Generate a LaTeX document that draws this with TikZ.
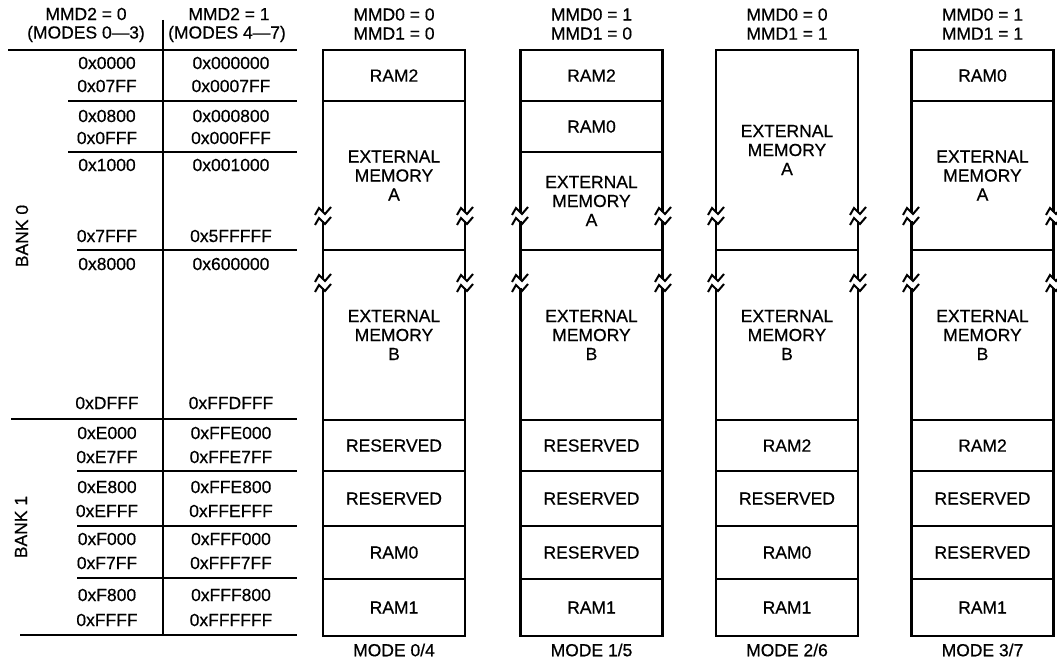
\documentclass[tikz,border=0pt]{standalone}
\usepackage{fontspec}
\setmainfont{Liberation Sans}[BoldFont=Liberation Sans,BoldFeatures={FakeBold=0.5}]
\newcommand{\extmem}[1]{EXTERNAL\\MEMORY\\#1}
\begin{document}
\begin{tikzpicture}[x=1pt,y=-1pt,
  every node/.style={font=\fontsize{17.5}{19}\selectfont\bfseries,inner sep=0pt,align=center},
  rule/.style={line width=2.8pt},
  blk/.style={draw,line width=2.8pt,minimum width=142pt},
  brk/.pic={
    \fill[white] (-2.5,-4) rectangle (2.5,5);
    \draw[line width=2pt] (-8,-1) -- (-4,-8) -- (2,-2) -- (8,-9);
    \draw[line width=2pt] (-8,9) -- (-4,2) -- (2,8) -- (8,1);
  }]
  \useasboundingbox (0,0) rectangle (1057,663);

  % Cabecera de la tabla de direcciones
  \node (mmd2a) at (86,14) {MMD2 = 0};
  \node (mmd2b) at (86,34) {(MODES 0—3)};
  \node (mmd2c) at (229,14) {MMD2 = 1};
  \node (mmd2d) at (227,34) {(MODES 4—7)};

  % Reglas de la tabla
  \draw[rule] (8,50) -- (297,50);
  \foreach \y/\x in {101/68, 152/68, 250/77, 419/11, 471/77, 526/77, 578/77, 635/20}
    \draw[rule] (\x,\y) -- (297,\y);
  \draw[rule] (163,20) -- (163,635);

  % Direcciones
  \foreach \y/\lo/\hi [count=\i] in {63/0x0000/0x000000, 86/0x07FF/0x0007FF,
      116/0x0800/0x000800, 138/0x0FFF/0x000FFF, 165/0x1000/0x001000,
      236/0x7FFF/0x5FFFFF, 264/0x8000/0x600000, 403/0xDFFF/0xFFDFFF,
      433/0xE000/0xFFE000, 457/0xE7FF/0xFFE7FF, 487/0xE800/0xFFE800,
      511/0xEFFF/0xFFEFFF, 539/0xF000/0xFFF000, 563/0xF7FF/0xFFF7FF,
      595/0xF800/0xFFF800, 620/0xFFFF/0xFFFFFF}
  {
    \node (lo\i) at (107,\y) {\lo};
    \node (hi\i) at (231,\y) {\hi};
  }

  % Bancos
  \node[rotate=90] (bank0) at (22,236) {BANK 0};
  \node[rotate=90] (bank1) at (21,527) {BANK 1};

  % Columna MODE 0/4
  \node (hda) at (394,24) {MMD0 = 0\\MMD1 = 0};
  \foreach \t/\b/\txt [count=\i] in {50/101/RAM2, 101/250/{\extmem{A}},
      250/420/{\extmem{B}}, 420/471/RESERVED, 471/526/RESERVED,
      526/579/RAM0, 579/636/RAM1}
    \node[blk,minimum height={(\b-\t)*1pt}] (ma\i) at (394,{(\t+\b)/2}) {\txt};
  \node (modea) at (394,650) {MODE 0/4};

  % Columna MODE 1/5
  \node (hdb) at (591.5,24) {MMD0 = 1\\MMD1 = 0};
  \foreach \t/\b/\txt [count=\i] in {50/101/RAM2, 101/152/RAM0,
      152/250/{\extmem{A}}, 250/420/{\extmem{B}}, 420/471/RESERVED,
      471/526/RESERVED, 526/579/RESERVED, 579/636/RAM1}
    \node[blk,minimum height={(\b-\t)*1pt}] (mb\i) at (591.5,{(\t+\b)/2}) {\txt};
  \node (modeb) at (591.5,650) {MODE 1/5};

  % Columna MODE 2/6
  \node (hdc) at (787,24) {MMD0 = 0\\MMD1 = 1};
  \foreach \t/\b/\txt [count=\i] in {50/250/{\extmem{A}}, 250/420/{\extmem{B}},
      420/471/RAM2, 471/526/RESERVED, 526/579/RAM0, 579/636/RAM1}
    \node[blk,minimum height={(\b-\t)*1pt}] (mc\i) at (787,{(\t+\b)/2}) {\txt};
  \node (modec) at (787,650) {MODE 2/6};

  % Columna MODE 3/7
  \node (hdd) at (982.5,24) {MMD0 = 1\\MMD1 = 1};
  \foreach \t/\b/\txt [count=\i] in {50/101/RAM0, 101/250/{\extmem{A}},
      250/420/{\extmem{B}}, 420/471/RAM2, 471/526/RESERVED,
      526/579/RESERVED, 579/636/RAM1}
    \node[blk,minimum height={(\b-\t)*1pt}] (md\i) at (982.5,{(\t+\b)/2}) {\txt};
  \node (moded) at (982.5,650) {MODE 3/7};

  % Cortes en los laterales
  \foreach \x in {323, 465, 520, 663, 716, 858, 911, 1054}
    \foreach \y in {216, 283}
      \pic at (\x,\y) {brk};
\end{tikzpicture}
\end{document}
